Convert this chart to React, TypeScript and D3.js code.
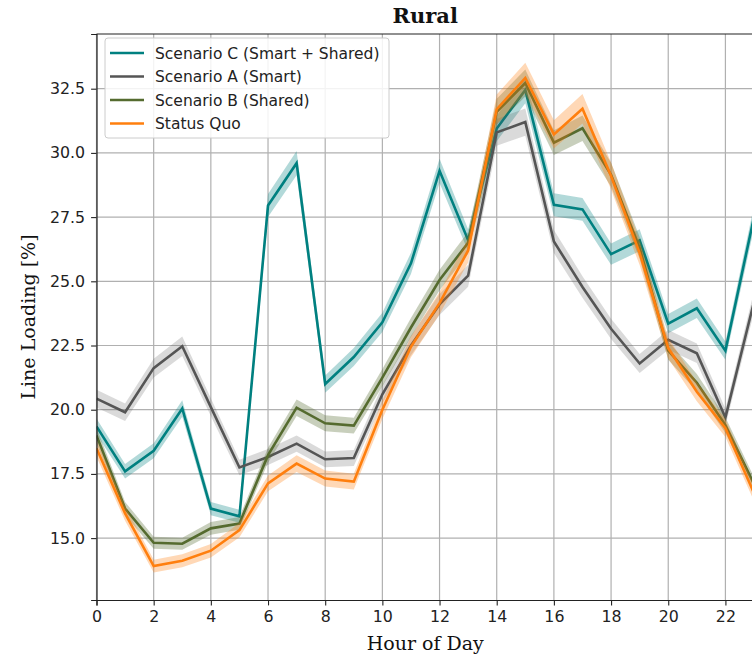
import { useEffect, useRef } from "react";
import * as d3 from "d3";

const hours = d3.range(0, 24);

const scenarioC = [19.35, 17.6, 18.4, 20.05, 16.15, 15.85, 27.95, 29.6, 21.0, 22.05, 23.4, 25.7, 29.3, 26.6, 30.95, 32.45, 27.98, 27.8, 26.06, 26.6, 23.35, 23.95, 22.3, 27.5];
const scenarioA = [20.43, 19.9, 21.62, 22.47, 20.1, 17.75, 18.16, 18.68, 18.07, 18.12, 20.6, 22.5, 24.1, 25.22, 30.8, 31.2, 26.55, 24.78, 23.15, 21.8, 22.72, 22.2, 19.7, 24.2];
const scenarioB = [19.0, 16.15, 14.82, 14.78, 15.38, 15.57, 18.23, 20.08, 19.47, 19.38, 21.25, 23.2, 25.05, 26.5, 31.6, 32.72, 30.4, 30.96, 29.15, 26.3, 22.3, 21.05, 19.4, 17.1];
const statusQuo = [18.5, 15.96, 13.91, 14.12, 14.51, 15.31, 17.13, 17.9, 17.32, 17.2, 20.0, 22.45, 24.15, 26.2, 31.7, 32.92, 30.72, 31.72, 29.1, 26.1, 22.4, 20.7, 19.28, 16.75];

const seriesNames = ["Scenario C (Smart + Shared)", "Scenario A (Smart)", "Scenario B (Shared)", "Status Quo"];
const seriesColors = ["#008080", "#555555", "#556b2f", "#ff7f0e"];
const bandOpacity = [0.3, 0.22, 0.32, 0.3];
const ciRatio = [0.016, 0.017, 0.016, 0.018];

const yTicks = [15, 17.5, 20, 22.5, 25, 27.5, 30, 32.5];
const xTicks = [0, 2, 4, 6, 8, 10, 12, 14, 16, 18, 20, 22];

export default function App() {
  const ref = useRef<SVGSVGElement>(null);

  useEffect(() => {
    if (!ref.current) return;
    const W = 752, H = 656;
    const left = 96.5, right = 754, top = 34, bottom = 600;
    const svg = d3.select(ref.current);
    svg.selectAll("*").remove();

    const x = d3.scaleLinear().domain([0, 23]).range([left, right]);
    const y = d3.scaleLinear().domain([12.59, 34.63]).range([bottom, top]);

    svg.append("rect").attr("width", W).attr("height", H).attr("fill", "#fff");

    const clip = svg.append("clipPath").attr("id", "plotclip");
    clip.append("rect").attr("x", left).attr("y", top).attr("width", right - left).attr("height", bottom - top);

    // grid
    const grid = svg.append("g").attr("stroke", "#b0b0b0").attr("stroke-width", 1.2);
    xTicks.forEach((t) => {
      grid.append("line").attr("x1", x(t)).attr("x2", x(t)).attr("y1", top).attr("y2", bottom);
    });
    yTicks.forEach((t) => {
      grid.append("line").attr("x1", left).attr("x2", right).attr("y1", y(t)).attr("y2", y(t));
    });

    const plot = svg.append("g").attr("clip-path", "url(#plotclip)");
    const all = [scenarioC, scenarioA, scenarioB, statusQuo];

    all.forEach((vals, i) => {
      const r = ciRatio[i];
      const band = d3.area<number>()
        .x((_, j) => x(hours[j]))
        .y0((d) => y(d * (1 - r)))
        .y1((d) => y(d * (1 + r)));
      plot.append("path")
        .datum(vals)
        .attr("fill", seriesColors[i])
        .attr("fill-opacity", bandOpacity[i])
        .attr("d", band);
      const line = d3.line<number>()
        .x((_, j) => x(hours[j]))
        .y((d) => y(d));
      plot.append("path")
        .datum(vals)
        .attr("fill", "none")
        .attr("stroke", seriesColors[i])
        .attr("stroke-width", 2.6)
        .attr("d", line);
    });

    // axes
    const font = "DejaVu Sans, sans-serif";
    const xAxis = svg.append("g")
      .attr("transform", `translate(0,${bottom})`)
      .call(d3.axisBottom(x).tickValues(xTicks).tickSize(5.4).tickPadding(5.5).tickFormat((d) => String(d)));
    xAxis.select(".domain").attr("stroke", "#222").attr("stroke-width", 1.2);
    xAxis.selectAll(".tick line").attr("stroke", "#222").attr("stroke-width", 1.1);
    xAxis.selectAll(".tick text").attr("fill", "#222").attr("font-size", "15.8px").attr("font-family", font);

    const yAxis = svg.append("g")
      .attr("transform", `translate(${left},0)`)
      .call(d3.axisLeft(y).tickValues(yTicks).tickSize(5.4).tickPadding(6).tickFormat((d) => Number(d).toFixed(1)));
    yAxis.select(".domain").attr("stroke", "#222").attr("stroke-width", 1.2);
    yAxis.selectAll(".tick line").attr("stroke", "#222").attr("stroke-width", 1.1);
    yAxis.selectAll(".tick text").attr("fill", "#222").attr("font-size", "15.8px").attr("font-family", font);

    svg.append("line").attr("x1", left).attr("x2", right).attr("y1", top).attr("y2", top)
      .attr("stroke", "#222").attr("stroke-width", 1.2);

    // labels
    svg.append("text")
      .attr("x", (left + right) / 2).attr("y", 23)
      .attr("text-anchor", "middle")
      .attr("font-family", "DejaVu Serif, serif").attr("font-weight", "bold").attr("font-size", "21px")
      .attr("fill", "#111")
      .text("Rural");
    svg.append("text")
      .attr("x", (left + right) / 2).attr("y", 650)
      .attr("text-anchor", "middle")
      .attr("font-family", "DejaVu Serif, serif").attr("font-size", "19px")
      .attr("fill", "#111")
      .text("Hour of Day");
    svg.append("text")
      .attr("transform", `translate(35,${(top + bottom) / 2}) rotate(-90)`)
      .attr("text-anchor", "middle")
      .attr("font-family", "DejaVu Serif, serif").attr("font-size", "19px")
      .attr("fill", "#111")
      .text("Line Loading [%]");

    // legend
    const lg = svg.append("g");
    lg.append("rect")
      .attr("x", 105).attr("y", 38).attr("width", 284).attr("height", 100)
      .attr("rx", 3).attr("fill", "#fff").attr("fill-opacity", 0.85)
      .attr("stroke", "#cccccc").attr("stroke-width", 1);
    seriesNames.forEach((name, i) => {
      const ly = 53 + i * 23.5;
      lg.append("line").attr("x1", 110).attr("x2", 144).attr("y1", ly).attr("y2", ly)
        .attr("stroke", seriesColors[i]).attr("stroke-width", 2.6);
      lg.append("text").attr("x", 155).attr("y", ly + 5.5)
        .attr("font-family", font).attr("font-size", "15.5px").attr("fill", "#222")
        .text(name);
    });
  }, []);

  return <svg ref={ref} width={752} height={656} style={{ position: "absolute", left: 0, top: 0 }} />;
}
